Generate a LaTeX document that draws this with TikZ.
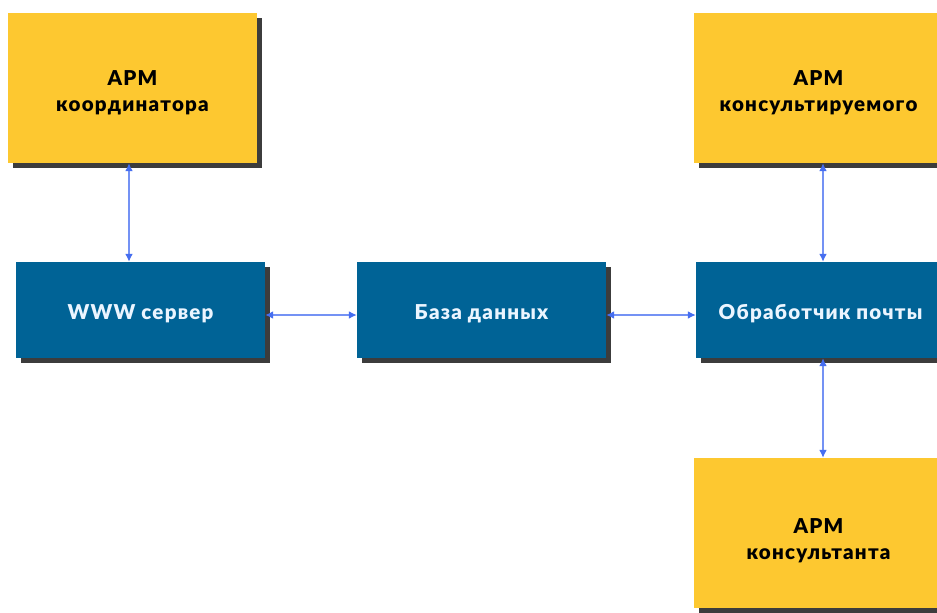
\documentclass[tikz,border=0pt]{standalone}
\usepackage{fontspec}
\newfontfamily\lab{Lato Black}[LetterSpace=6]
\usetikzlibrary{arrows.meta,shadows}
\definecolor{ybox}{RGB}{253,200,48}
\definecolor{bbox}{RGB}{0,99,150}
\definecolor{shd}{RGB}{60,60,60}
\definecolor{arr}{RGB}{70,110,240}
\definecolor{btext}{RGB}{235,245,255}
\newcommand{\down}[1]{\rule{0pt}{#1pt}}
\begin{document}
\begin{tikzpicture}[x=1pt,y=-1pt,
  basebox/.style={minimum width=249pt, inner sep=0pt, align=center,
    font=\lab\fontsize{20.5}{26}\selectfont,
    drop shadow={shadow xshift=5pt, shadow yshift=-5pt, fill=shd, opacity=1}},
  ybx/.style={basebox, fill=ybox, minimum height=150pt, text=black},
  bbx/.style={basebox, fill=bbox, minimum height=96pt, text=btext},
  link/.style={draw=arr!75, line width=2pt, {Latex[length=8pt,width=8pt,color=arr]}-{Latex[length=8pt,width=8pt,color=arr]}}
]
\clip (0,0) rectangle (937,613);
\fill[white] (0,0) rectangle (937,613);
\node[ybx] (coord) at (132.5,88) {\down{25}АРМ\\координатора};
\node[ybx] (cons)  at (818.5,88) {\down{25}АРМ\\консультируемого};
\node[bbx] (www)   at (140.5,310) {\down{22}WWW сервер};
\node[bbx] (db)    at (481.5,310) {\down{22}База данных};
\node[bbx] (mail)  at (820.5,310) {\down{22}Обработчик почты};
\node[ybx] (expert) at (818.5,533) {\down{31}АРМ\\консультанта};
\draw[link] (coord.south -| 129,0) -- (www.north -| 129,0);
\draw[link] (www.east |- 0,315) -- (db.west |- 0,315);
\draw[link] (db.east |- 0,315) -- (mail.west |- 0,315);
\draw[link] (cons.south -| 823,0) -- (mail.north -| 823,0);
\draw[link] (mail.south -| 823,0) -- (expert.north -| 823,0);
\end{tikzpicture}
\end{document}
